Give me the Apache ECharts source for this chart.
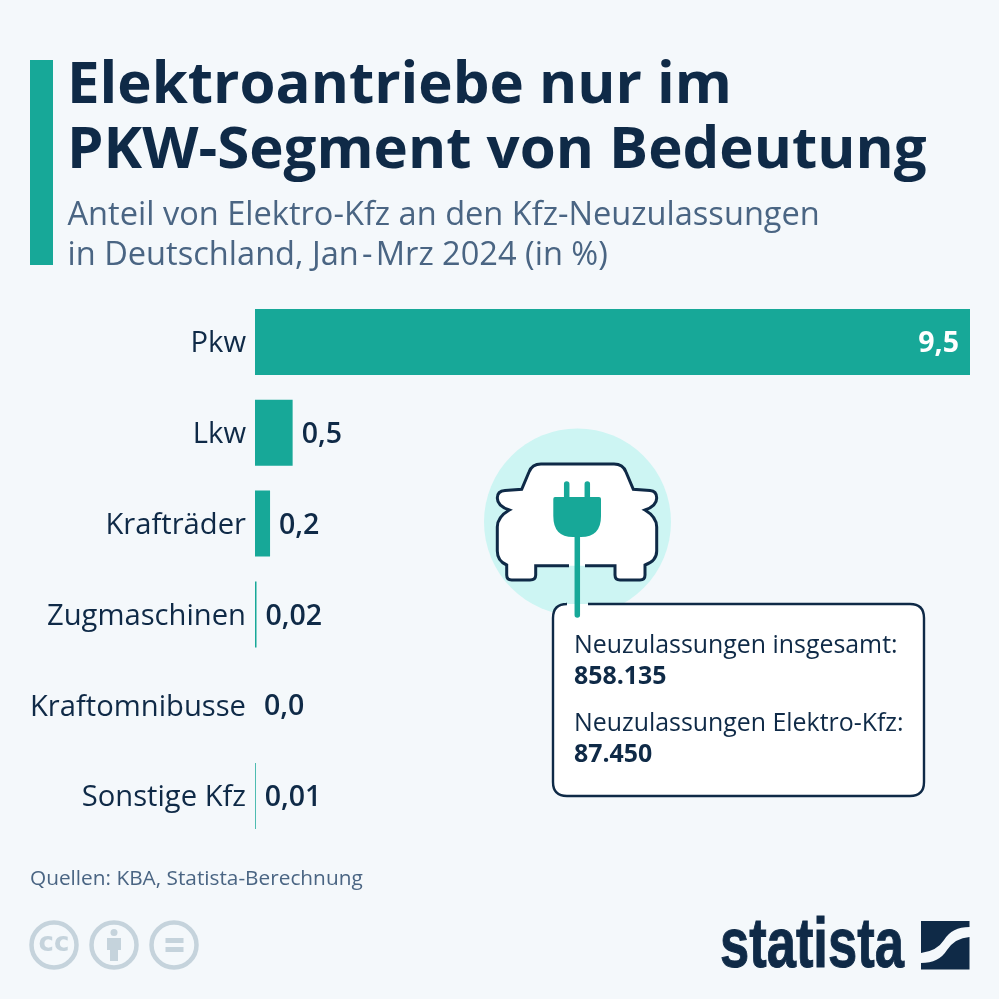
<!DOCTYPE html>
<html>
<head>
<meta charset="utf-8">
<style>
html, body { margin: 0; padding: 0; background: #f4f8fb; }
#main { width: 999px; height: 999px; }
</style>
<script src="https://cdn.jsdelivr.net/npm/echarts@6/dist/echarts.min.js"></script>
</head>
<body>
<div id="main"></div>
<script>
let categories = ['Pkw', 'Lkw', 'Krafträder', 'Zugmaschinen', 'Kraftomnibusse', 'Sonstige Kfz'];
let values = [9.5, 0.5, 0.2, 0.02, 0, 0.01];
let valueLabels = ['9,5', '0,5', '0,2', '0,02', '0,0', '0,01'];
let titleLines = 'Elektroantriebe nur im\nPKW-Segment von Bedeutung';
let subtitleLines = 'Anteil von Elektro-Kfz an den Kfz-Neuzulassungen\nin Deutschland, Jan\u200a-\u200aMrz 2024 (in %)';
let sourceText = 'Quellen: KBA, Statista-Berechnung';

let navy = '#0f2a47', teal = '#17a898', slate = '#4a6583', grey = '#c5d3dc';
let font = '"Open Sans", sans-serif';

let myChart = echarts.init(document.getElementById('main'));

// the graphic component has no plain "path" type, so each svg path gets registered
function pathShape(name, d) {
    echarts.graphic.registerShape(name, echarts.graphic.extendPath(d, {}));
    return name;
}

let carPath = 'M569 565.7L535.7 565.7L535.7 575Q535.7 580 530 580L511.7 580Q506.7 580 506.7 575L506.7 565Q497.3 561 497.3 551L497.3 527Q497.3 517 509.3 510Q497.3 506 497.3 498Q497.3 491 505 490.5L521.7 489.3L529 472Q532 464 541 464L614 464Q623 464 626 472L633.3 489.3L650 490.5Q656.7 491 656.7 498Q656.7 506 645 510Q656.7 517 656.7 527L656.7 551Q656.7 561 645 565L645 575Q645 580 640 580L620 580Q615 580 615 575L615 565.7L585 565.7';
pathShape('carBody', carPath);
pathShape('boxEdge', 'M566 604L567 604Q553 604 553 618L553 782Q553 796 567 796L910 796Q924 796 924 782L924 618Q924 604 910 604L588 604');
pathShape('plugBody', 'M553.3 499Q553.3 497 555 497L599 497Q601 497 601 499L601 516Q601 537 581 537L573 537Q553.3 537 553.3 516Z');
pathShape('personBody', 'M107 938L121 938L121 950L118 950L118 961L110 961L110 950L107 950Z');
pathShape('logoTop', 'M921 921L969.5 921L969.5 927Q952 927 944 940Q937 951 921 953Z');
pathShape('logoBottom', 'M969.5 937L969.5 969.5L921 969.5L921 963Q939 963 947 950Q955 938 969.5 937Z');

function boxText(x, y, text, weight) {
    return {type: 'text', z: 20, style: {x: x, y: y, text: text, fill: navy, font: weight + ' 24.9px ' + font, textVerticalAlign: 'middle'}};
}

let graphics = [
    // accent bar next to the title
    {type: 'rect', shape: {x: 30, y: 60, width: 23, height: 205}, style: {fill: teal}},
    // car icon
    {type: 'circle', z: 5, shape: {cx: 577.5, cy: 522, r: 93.5}, style: {fill: '#cdf5f3'}},
    {type: 'carBody', z: 6, style: {fill: '#fff', stroke: null}},
    {type: 'carBody', z: 7, style: {fill: null, stroke: navy, lineWidth: 3}},
    // callout box
    {type: 'rect', z: 8, shape: {x: 553, y: 604, width: 371, height: 192, r: 14}, style: {fill: '#fff'}},
    {type: 'boxEdge', z: 9, style: {fill: null, stroke: navy, lineWidth: 2.4}},
    // plug
    {type: 'line', z: 10, shape: {x1: 577.3, y1: 530, x2: 577.3, y2: 615}, style: {stroke: teal, lineWidth: 5.5, lineCap: 'round'}},
    {type: 'line', z: 10, shape: {x1: 566.7, y1: 484, x2: 566.7, y2: 500}, style: {stroke: teal, lineWidth: 5.5, lineCap: 'round'}},
    {type: 'line', z: 10, shape: {x1: 587.3, y1: 484, x2: 587.3, y2: 500}, style: {stroke: teal, lineWidth: 5.5, lineCap: 'round'}},
    {type: 'plugBody', z: 10, style: {fill: teal}},
    boxText(574, 646, 'Neuzulassungen insgesamt:', 'normal'),
    boxText(574, 677, '858.135', 'bold'),
    boxText(574, 724, 'Neuzulassungen Elektro-Kfz:', 'normal'),
    boxText(574, 755, '87.450', 'bold'),
    // licence icons
    {type: 'circle', shape: {cx: 54, cy: 945, r: 22.5}, style: {fill: null, stroke: grey, lineWidth: 4.5}},
    {type: 'circle', shape: {cx: 114, cy: 945, r: 22.5}, style: {fill: null, stroke: grey, lineWidth: 4.5}},
    {type: 'circle', shape: {cx: 174, cy: 945, r: 22.5}, style: {fill: null, stroke: grey, lineWidth: 4.5}},
    {type: 'text', style: {x: 54, y: 944, text: 'cc', fill: grey, font: '900 26px "DejaVu Sans", sans-serif', textAlign: 'center', textVerticalAlign: 'middle'}},
    {type: 'circle', shape: {cx: 114, cy: 932.5, r: 3.5}, style: {fill: grey}},
    {type: 'personBody', style: {fill: grey}},
    {type: 'rect', shape: {x: 165.5, y: 938, width: 18, height: 5}, style: {fill: grey}},
    {type: 'rect', shape: {x: 165.5, y: 947, width: 18, height: 5}, style: {fill: grey}},
    // statista logo, Liberation Sans squeezed since no narrow face is installed
    {type: 'text', x: 720, y: 983, scaleX: 0.75, style: {x: 0, y: 0, text: 'statista', fill: navy, stroke: navy, lineWidth: 1, font: 'bold 70px "Liberation Sans", sans-serif', textVerticalAlign: 'bottom'}},
    {type: 'logoTop', style: {fill: navy}},
    {type: 'logoBottom', style: {fill: navy}}
];

let option = {
    backgroundColor: '#f4f8fb',
    animation: false,
    title: [
        {text: titleLines, left: 62, top: 49, textStyle: {color: navy, fontFamily: font, fontWeight: 'bold', fontSize: 58.2, lineHeight: 65}},
        {text: subtitleLines, left: 62.5, top: 191, textStyle: {color: slate, fontFamily: font, fontWeight: 'normal', fontSize: 32.6, lineHeight: 40}},
        {text: sourceText, left: 25, top: 864, textStyle: {color: slate, fontFamily: font, fontWeight: 'normal', fontSize: 20.8}}
    ],
    grid: {left: 255, top: 296.6, width: 715, height: 544.8, containLabel: false},
    xAxis: {type: 'value', min: 0, max: 9.5, show: false},
    yAxis: {
        type: 'category',
        data: categories,
        inverse: true,
        axisLine: {show: false},
        axisTick: {show: false},
        splitLine: {show: false},
        axisLabel: {
            margin: 9,
            formatter: function (name) {
                return '{cat|' + name + '}';
            },
            rich: {
                // the top padding nudges the names down to line up with the reference
                cat: {color: navy, fontFamily: font, fontSize: 29.2, padding: [4, 0, 0, 0]}
            }
        }
    },
    series: [{
        type: 'bar',
        data: values.map(function (v, i) {
            return {
                value: v,
                label: i === 0
                    ? {position: 'insideRight', color: '#fff', distance: 11, fontWeight: 'bold', fontFamily: font, fontSize: 28.5, offset: [0, 2]}
                    : {position: 'right', color: navy, distance: 9, fontWeight: 600, fontFamily: font, fontSize: 28.5, offset: [0, 2]}
            };
        }),
        barWidth: 66,
        itemStyle: {color: teal},
        label: {
            show: true,
            formatter: function (p) {
                return valueLabels[p.dataIndex];
            }
        }
    }],
    graphic: {elements: graphics}
};
myChart.setOption(option);
</script>
</body>
</html>
